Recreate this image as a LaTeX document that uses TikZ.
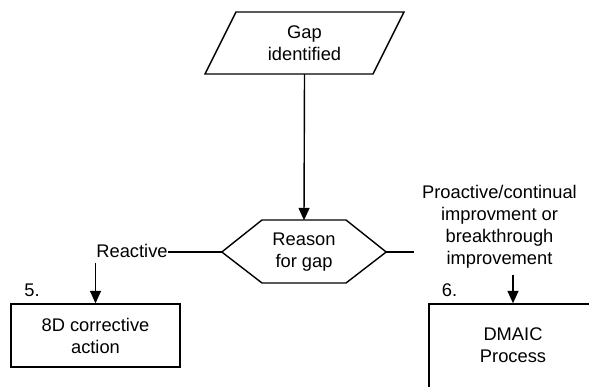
\documentclass[tikz,border=0pt]{standalone}
\usepackage{fontspec}
\setmainfont{Liberation Sans}
\usetikzlibrary{arrows.meta}
\begin{document}
\begin{tikzpicture}[x=1pt,y=-1pt,
  txt/.style={font=\fontsize{18.3}{22}\selectfont, align=center, inner sep=0pt},
  frame/.style={draw=black, line width=1.4pt},
  link/.style={draw=black, line width=1.4pt},
  flow/.style={link, -{Triangle[width=11pt,length=12.5pt]}}]
\useasboundingbox (0,0) rectangle (589,387);
\clip (0,0) rectangle (589,387);

% input: gap identified (parallelogram)
\node[txt, minimum width=168pt, minimum height=62pt] (gap) at (304.5,43) {Gap\\identified};
\draw[frame] (205,74) -- (236,12) -- (404,12) -- (373,74) -- cycle;

% decision: reason for gap (hexagon)
\node[txt, minimum width=164pt, minimum height=63pt] (reason) at (304,252) {Reason\\for gap};
\draw[frame] (reason.west) -- (262,220) -- (346,220) -- (reason.east)
  -- (346,283) -- (262,283) -- cycle;

\draw[flow] (gap.south) -- (reason.north);

% reactive branch
\node[txt] (reactive) at (132,250.5) {Reactive};
\draw[link] (reason.west) -- (reason.west -| reactive.east);
\node[txt] (n5) at (32,290) {5.};
\node[txt, frame, minimum width=169pt, minimum height=63pt] (box5) at (95.5,335.5) {8D corrective\\action};
\coordinate (reactivefoot) at (95.5,263);
\draw[flow] (reactivefoot) -- (box5.north);

% proactive branch
\coordinate (rightend) at (414,252);
\draw[link] (reason.east) -- (rightend);
\node[txt] (proactive) at (499.5,227) {Proactive/continual\\improvment or\\breakthrough\\improvement};
\node[txt] (n6) at (449.5,290) {6.};
\node[frame, minimum width=168pt, minimum height=90pt] (box6) at (513,349) {};
\node[txt] (dmaic) at (513,345.5) {DMAIC\\Process};
\coordinate (proactivefoot) at (513,275);
\draw[flow] (proactivefoot) -- (box6.north);
\end{tikzpicture}
\end{document}
